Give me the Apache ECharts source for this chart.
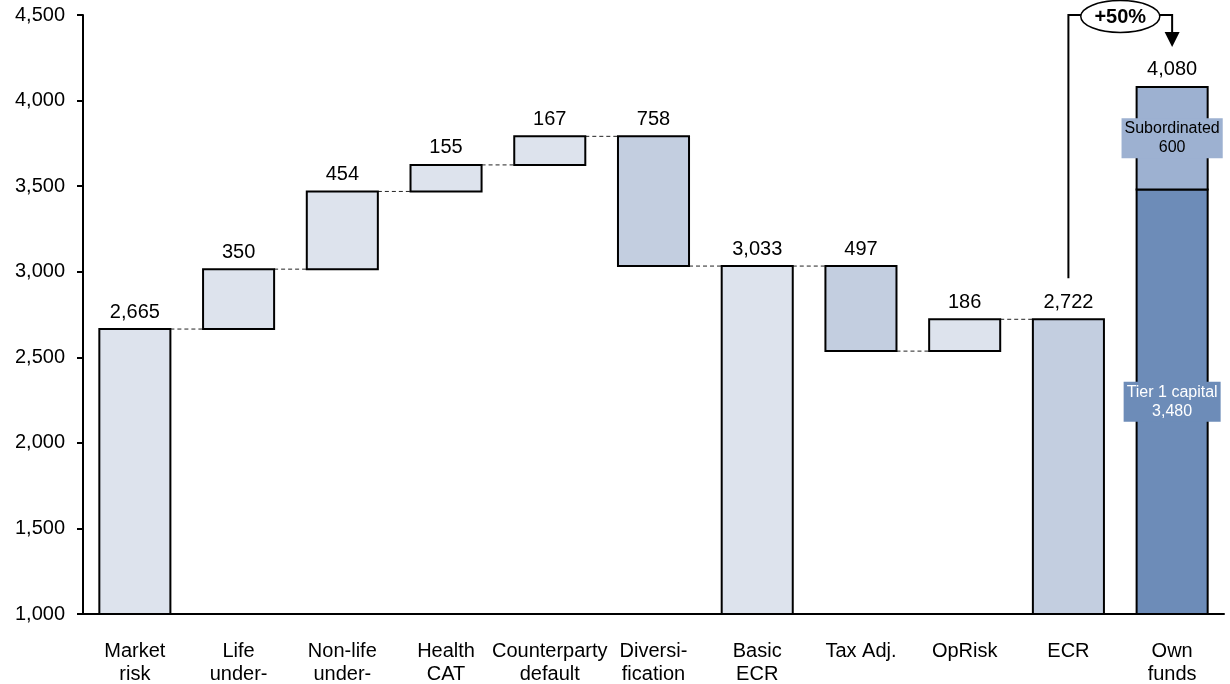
<!DOCTYPE html>
<html>
<head>
<meta charset="utf-8">
<script src="https://cdn.jsdelivr.net/npm/echarts@6/dist/echarts.min.js"></script>
<style>
  html, body { margin: 0; padding: 0; background: #fff; }
  #chart { width: 1230px; height: 684px; }
</style>
</head>
<body>
<div id="chart"></div>
<script>
// Capital requirement build-up (waterfall) and own funds
const categories = ['Market\nrisk', 'Life\nunder-', 'Non-life\nunder-', 'Health\nCAT', 'Counterparty\ndefault',
  'Diversi-\nfication', 'Basic\nECR', 'Tax Adj.', 'OpRisk', 'ECR', 'Own\nfunds'];
// totals carry their absolute level, the other steps carry the change
const stepValues = [2665, 350, 454, 155, 167, -758, 3033, -497, 186, 2722, 4080];
const isTotal = [true, false, false, false, false, false, true, false, false, true, true];
const tones = ['light', 'light', 'light', 'light', 'light', 'mid', 'light', 'mid', 'light', 'mid', 'own'];
const ownFundsParts = [3480, 600];
const ownFundsPartNames = ['Tier 1 capital', 'Subordinated'];
const upliftText = '+50%';
const yTicks = { min: 1000, max: 4500, interval: 500 };

const toneColor = { light: '#DDE3ED', mid: '#C3CEE0', tier1: '#6D8CB8', sub: '#9DB1D1' };
const fmt = v => Math.abs(v).toLocaleString('en-US');
const FONT = 'Arial, "Liberation Sans", sans-serif';
const FS = 20;

// derive each bar's low/high from the running total
const bars = [];
const connectors = [];
let running = 0;
stepValues.forEach((v, i) => {
  let low, high;
  if (isTotal[i]) {
    running = v; low = 0; high = v;
  } else {
    const start = running;
    running = start + v;
    low = Math.min(start, running); high = Math.max(start, running);
  }
  bars.push([i, low, high, v]);
  if (i < stepValues.length - 2) connectors.push([i, running]);
});

const chart = echarts.init(document.getElementById('chart'), null, { renderer: 'canvas' });

function barRect(api, i, low, high) {
  const lo = Math.max(low, yTicks.min);
  const w = api.size([1, 0])[0] * 0.685;
  const p1 = api.coord([i, high]);
  const p0 = api.coord([i, lo]);
  return { x: p1[0] - w / 2, y: p1[1], width: w, height: p0[1] - p1[1] };
}

chart.setOption({
  animation: false,
  grid: { left: 83, right: 6, top: 15, bottom: 70, containLabel: false, outerBoundsMode: 'none' },
  xAxis: {
    type: 'category',
    data: categories,
    axisLine: { lineStyle: { color: '#000', width: 2 } },
    axisTick: { show: false },
    axisLabel: { color: '#000', fontSize: FS, fontFamily: FONT, lineHeight: 23, margin: 26, interval: 0 },
    splitLine: { show: false }
  },
  yAxis: {
    type: 'value',
    min: yTicks.min, max: yTicks.max, interval: yTicks.interval,
    axisLine: { show: true, lineStyle: { color: '#000', width: 2 } },
    axisTick: { show: true, inside: false, length: 6, lineStyle: { color: '#000', width: 2 } },
    axisLabel: { color: '#000', fontSize: FS, fontFamily: FONT, margin: 18, formatter: v => v.toLocaleString('en-US') },
    splitLine: { show: false }
  },
  series: [
    {
      type: 'custom',
      name: 'connectors',
      data: connectors,
      z: 1,
      renderItem: (params, api) => {
        const i = api.value(0), level = api.value(1);
        const w = api.size([1, 0])[0] * 0.685;
        const a = api.coord([i, level]);
        const b = api.coord([i + 1, level]);
        return {
          type: 'line',
          shape: { x1: a[0] + w / 2, y1: a[1], x2: b[0] - w / 2, y2: b[1] },
          style: { stroke: '#222', lineWidth: 1, lineDash: [4, 3] }
        };
      }
    },
    {
      type: 'custom',
      name: 'bars',
      data: bars,
      z: 2,
      renderItem: (params, api) => {
        const i = api.value(0), low = api.value(1), high = api.value(2), v = api.value(3);
        const children = [];
        const tone = tones[i];
        if (tone === 'own') {
          let base = 0;
          ownFundsParts.forEach((part, k) => {
            const r = barRect(api, i, base, base + part);
            children.push({
              type: 'rect', shape: r,
              style: { fill: k === 0 ? toneColor.tier1 : toneColor.sub, stroke: '#000', lineWidth: 2 }
            });
            base += part;
          });
          base = 0;
          ownFundsParts.forEach((part, k) => {
            const r = barRect(api, i, base, base + part);
            children.push({
              type: 'text', z2: 10,
              style: {
                x: r.x + r.width / 2, y: r.y + r.height / 2,
                text: ownFundsPartNames[k] + '\n' + fmt(part),
                align: 'center', verticalAlign: 'middle',
                fontSize: 16, fontFamily: FONT, lineHeight: 19,
                fill: k === 0 ? '#fff' : '#000',
                backgroundColor: k === 0 ? toneColor.tier1 : toneColor.sub,
                padding: [1, 3, 1, 3]
              }
            });
            base += part;
          });
        } else {
          const r = barRect(api, i, low, high);
          children.push({
            type: 'rect', shape: r,
            style: { fill: toneColor[tone], stroke: '#000', lineWidth: 2 }
          });
        }
        const top = api.coord([i, high]);
        children.push({
          type: 'text',
          style: {
            x: top[0], y: top[1] - 17,
            text: fmt(v),
            align: 'center', verticalAlign: 'middle',
            fontSize: FS, fontFamily: FONT, fill: '#000'
          }
        });
        return { type: 'group', children: children };
      }
    }
  ]
});

// bracket from ECR to own funds with the coverage uplift
const ecrIdx = 9, ownIdx = 10;
const pE = chart.convertToPixel({ xAxisIndex: 0, yAxisIndex: 0 }, [ecrIdx, stepValues[ecrIdx]]);
const pO = chart.convertToPixel({ xAxisIndex: 0, yAxisIndex: 0 }, [ownIdx, stepValues[ownIdx]]);
const yTop = chart.convertToPixel({ yAxisIndex: 0 }, yTicks.max);
const xMid = (pE[0] + pO[0]) / 2;
const arrowTip = yTop + 32;

chart.setOption({
  graphic: [
    {
      type: 'polyline', z: 100,
      shape: { points: [[pE[0], pE[1] - 41], [pE[0], yTop], [pO[0], yTop], [pO[0], arrowTip - 14]] },
      style: { stroke: '#000', lineWidth: 2, fill: null }
    },
    {
      type: 'polygon', z: 100,
      shape: { points: [[pO[0] - 7.5, arrowTip - 15], [pO[0] + 7.5, arrowTip - 15], [pO[0], arrowTip]] },
      style: { fill: '#000' }
    },
    {
      type: 'ellipse', z: 101,
      shape: { cx: xMid, cy: yTop + 1.5, rx: 39.5, ry: 16 },
      style: { fill: '#fff', stroke: '#000', lineWidth: 1.5 }
    },
    {
      type: 'text', z: 102,
      style: {
        x: xMid, y: yTop + 2, text: upliftText,
        align: 'center', verticalAlign: 'middle',
        fontSize: 20, fontWeight: 'bold', fontFamily: FONT, fill: '#000'
      }
    }
  ]
});
</script>
</body>
</html>
